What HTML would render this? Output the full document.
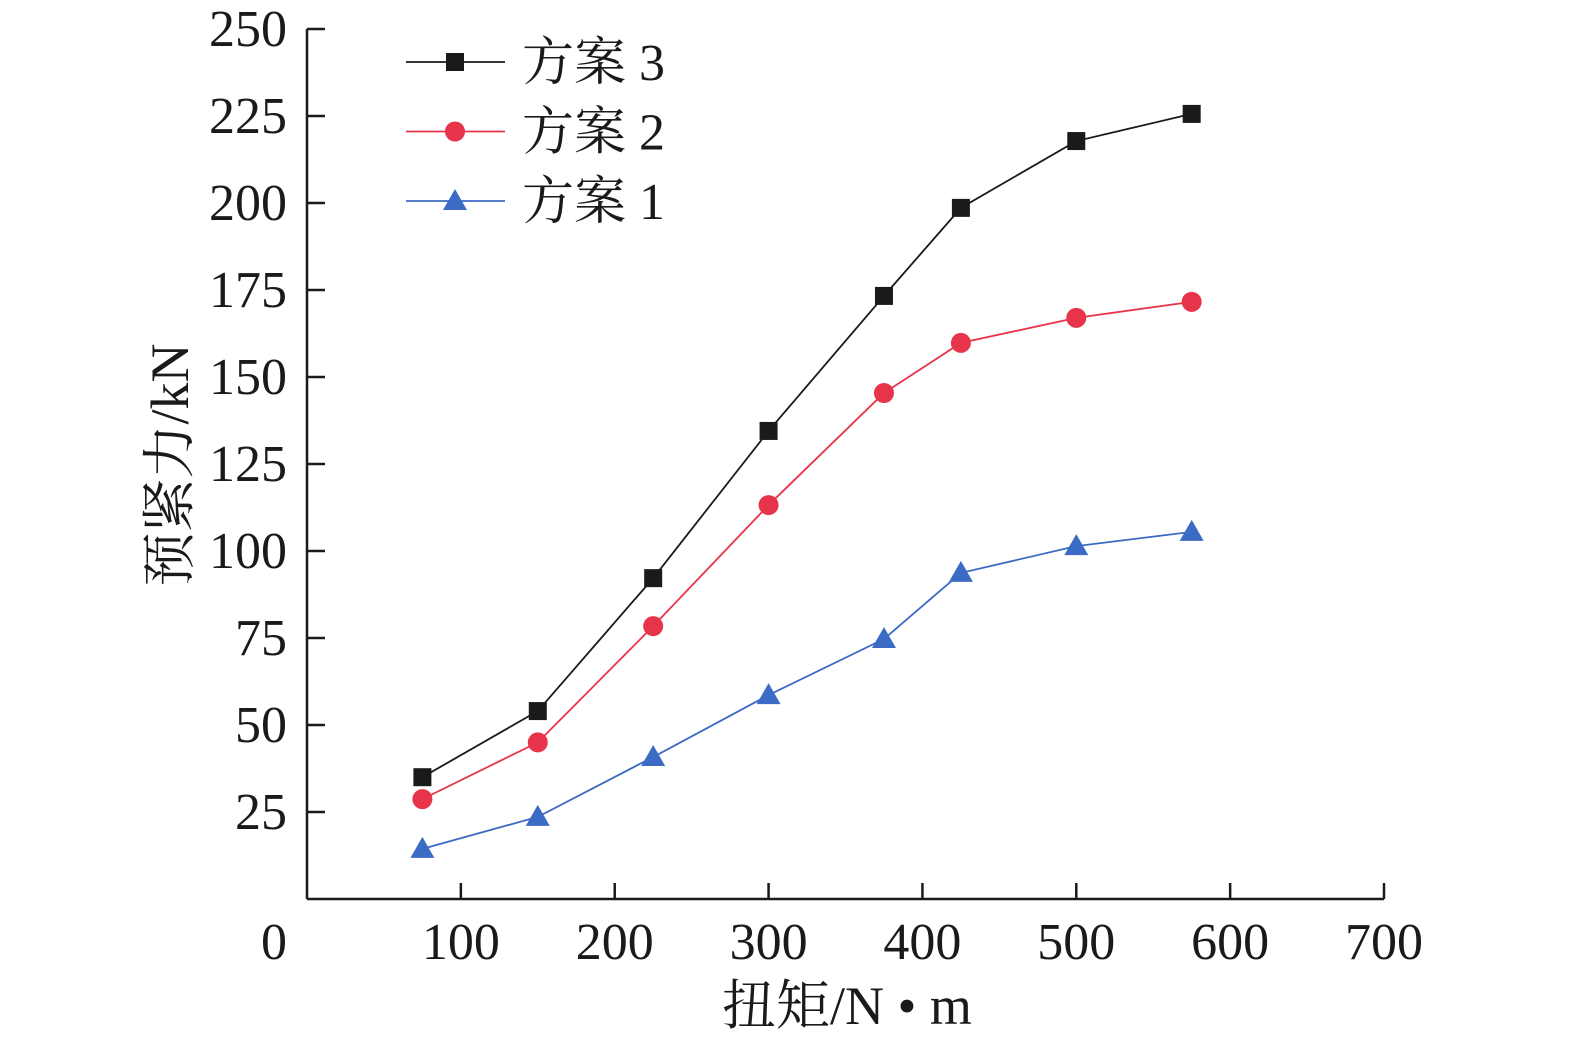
<!DOCTYPE html>
<html><head><meta charset="utf-8">
<style>
html,body{margin:0;padding:0;background:#fff;}
svg{display:block;}
text{font-family:"Liberation Serif","Noto Serif CJK SC",serif;fill:#1a1a1a;}
</style></head>
<body>
<svg id="chart" width="1575" height="1047" viewBox="0 0 1575 1047" xmlns="http://www.w3.org/2000/svg">
<g id="axes"></g>
<g id="series"></g>
<g id="legend"></g>
<text x="847" y="1024" font-size="54" text-anchor="middle">扭矩/N • m</text>
<text transform="translate(188,465) rotate(-90)" font-size="54" text-anchor="middle">预紧力/kN</text>
</svg>
<script>
const xCats = [75,150,225,300,375,425,500,575];
const scheme3 = [35,54,92.2,134.5,173.3,198.6,217.8,225.6];
const scheme2 = [28.7,45,78.4,113.2,145.4,159.8,167,171.6];
const scheme1 = [14.4,23.6,40.8,58.6,74.7,93.7,101.4,105.5];
const xTicks = [0,100,200,300,400,500,600,700];
const yTicks = [25,50,75,100,125,150,175,200,225,250];
const seriesNames = ["方案 3","方案 2","方案 1"];

const NS="http://www.w3.org/2000/svg";
const X0=307,X1=1384,Y0=899,Y1=29;
const xs=v=>X0+(X1-X0)*v/700;
const ys=v=>Y0-(Y0-Y1)*v/250;
function mk(tag,attrs,parent){const e=document.createElementNS(NS,tag);for(const k in attrs)e.setAttribute(k,attrs[k]);parent.appendChild(e);return e;}
const axes=document.getElementById('axes');
let a=mk('line',{x1:X0,y1:Y0,x2:X1,y2:Y0,stroke:'#1a1a1a','stroke-width':2.5},axes);


a=mk('line',{x1:X0,y1:Y0,x2:X0,y2:Y1,stroke:'#1a1a1a','stroke-width':2.5},axes);


xTicks.forEach(t=>{
  if(t>0){const l=mk('line',{x1:xs(t),y1:Y0,x2:xs(t),y2:Y0-16,stroke:'#1a1a1a','stroke-width':2.5},axes);
  
  }
  const tx=mk('text',{x:t===0?274:xs(t),y:959,'font-size':52,'text-anchor':'middle'},axes);
  tx.textContent=t;
  
  
});
yTicks.forEach(t=>{
  const l=mk('line',{x1:X0,y1:ys(t),x2:X0+18,y2:ys(t),stroke:'#1a1a1a','stroke-width':2.5},axes);
  
  
  const tx=mk('text',{x:287,y:ys(t)+17,'font-size':52,'text-anchor':'end'},axes);
  tx.textContent=t;
  
  
});
const colors=['#1a1a1a','#e8344a','#3b6bc4'];
const shapes=['square','circle','triangle'];
function marker(g,x,y,s,c){
  let m;
  if(s==='square')m=mk('rect',{x:x-9,y:y-9,width:18,height:18,fill:c},g);
  else if(s==='circle')m=mk('circle',{cx:x,cy:y,r:10,fill:c},g);
  else m=mk('polygon',{points:`${x},${y-12} ${x+12},${y+9} ${x-12},${y+9}`,fill:c},g);
  
  
}
const sg=document.getElementById('series');
[scheme3,scheme2,scheme1].forEach((data,i)=>{
  const g=mk('g',{},sg);
  
  
  const pl=mk('polyline',{points:data.map((v,j)=>xs(xCats[j])+','+ys(v)).join(' '),fill:'none',stroke:colors[i],'stroke-width':1.8},g);
  
  
  data.forEach((v,j)=>marker(g,xs(xCats[j]),ys(v),shapes[i],colors[i]));
});
const lg=document.getElementById('legend');
seriesNames.forEach((n,i)=>{
  const y=62+i*69.5;
  const g=mk('g',{},lg);
  
  
  mk('line',{x1:406,y1:y,x2:505,y2:y,stroke:colors[i],'stroke-width':1.8},g);
  marker(g,455,y,shapes[i],colors[i]);
  const t=mk('text',{x:522,y:y+18,'font-size':52},g);
  t.textContent=n;
  
  
});
</script>
</body></html>
